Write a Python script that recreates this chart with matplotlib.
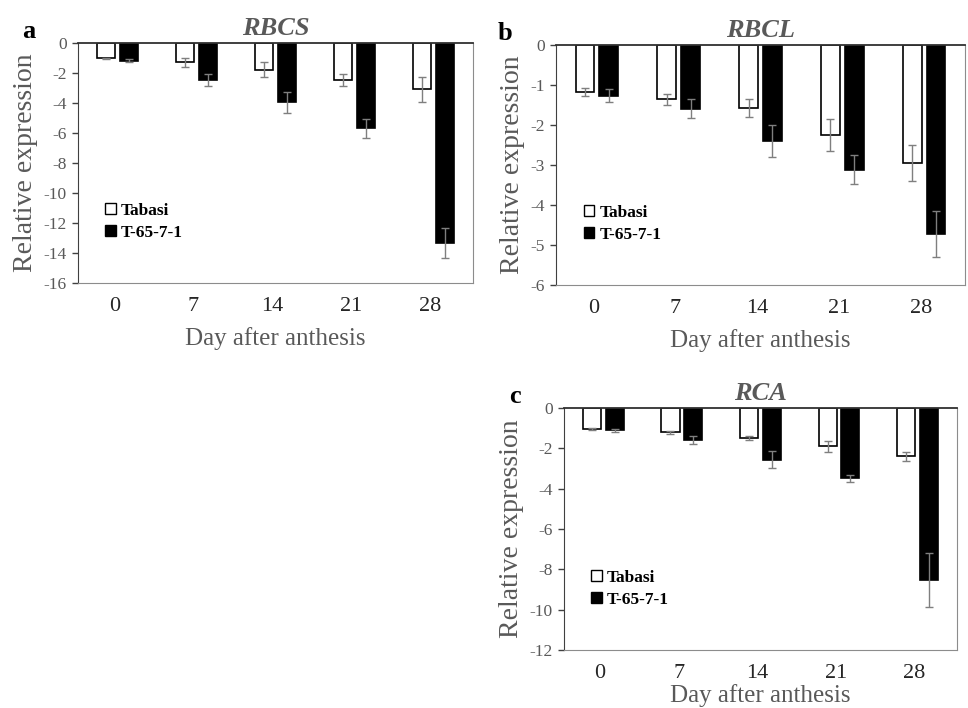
import matplotlib
matplotlib.use("Agg")

import matplotlib.pyplot as plt
import numpy as np
from matplotlib.patches import Patch

plt.rcParams["font.family"] = ["Liberation Serif", "DejaVu Serif"]
plt.rcParams["axes.unicode_minus"] = False

days = ["0", "7", "14", "21", "28"]
series = ["Tabasi", "T-65-7-1"]

rbcs_tabasi = [-1.03, -1.29, -1.80, -2.47, -3.09]
rbcs_tabasi_err = [0.05, 0.30, 0.50, 0.43, 0.85]
rbcs_t65 = [-1.18, -2.47, -3.95, -5.69, -13.31]
rbcs_t65_err = [0.12, 0.42, 0.70, 0.64, 1.00]

rbcl_tabasi = [-1.17, -1.36, -1.57, -2.24, -2.94]
rbcl_tabasi_err = [0.10, 0.13, 0.22, 0.40, 0.45]
rbcl_t65 = [-1.27, -1.59, -2.39, -3.12, -4.72]
rbcl_t65_err = [0.16, 0.23, 0.40, 0.36, 0.58]

rca_tabasi = [-1.04, -1.21, -1.51, -1.90, -2.40]
rca_tabasi_err = [0.05, 0.08, 0.10, 0.27, 0.22]
rca_t65 = [-1.11, -1.57, -2.57, -3.49, -8.53]
rca_t65_err = [0.07, 0.20, 0.43, 0.18, 1.33]

GREY = "#595959"

fig = plt.figure(figsize=(9.68, 7.08), dpi=100)


def draw_panel(rect, letter, title, tab, tab_err, t65, t65_err, ymin, ystep):
    ax = fig.add_axes(rect)
    x = np.arange(len(days))
    w = 0.23
    off = 0.145
    err_kw = dict(ecolor="#7f7f7f", elinewidth=1.0, capsize=3, capthick=1.0)
    ax.bar(x - off, tab, w, yerr=tab_err, color="white", edgecolor="black",
           linewidth=1.2, error_kw=err_kw, label=series[0], zorder=2)
    ax.bar(x + off, t65, w, yerr=t65_err, color="black", edgecolor="black",
           linewidth=1.2, error_kw=err_kw, label=series[1], zorder=2)

    ax.set_xlim(-0.5, len(days) - 0.5)
    ax.set_ylim(ymin, 0)
    ax.set_yticks(np.arange(ymin, 0.1, ystep))
    ax.set_xticks(x - 0.04)
    ax.set_xticklabels(days, fontsize=16, color="#262626")
    ax.tick_params(axis="x", length=0, pad=10)
    ax.tick_params(axis="y", length=4, width=1, color="#404040",
                   labelsize=12.5, labelcolor=GREY, pad=4)

    ax.spines["top"].set_color("#303030")
    ax.spines["top"].set_linewidth(1.3)
    ax.spines["left"].set_color("#404040")
    ax.spines["right"].set_color("#8c8c8c")
    ax.spines["bottom"].set_color("#8c8c8c")

    ax.set_ylabel("Relative expression", fontsize=20, color=GREY, labelpad=4)
    ax.set_xlabel("Day after anthesis", fontsize=18, color=GREY, labelpad=8)
    ax.set_title(title, fontsize=19, fontweight="bold", fontstyle="italic",
                 color=GREY, pad=6)
    ax.text(-0.125, 1.0, letter, transform=ax.transAxes, fontsize=19,
            fontweight="bold", color="black", ha="center", va="bottom")

    handles = [Patch(facecolor="white", edgecolor="black", linewidth=1.0),
               Patch(facecolor="black", edgecolor="black")]
    ax.legend(handles, series, loc="lower left",
              bbox_to_anchor=(0.03, 0.11), frameon=False,
              prop={"size": 12.5, "weight": "bold"},
              handlelength=0.6, handleheight=0.6, handletextpad=0.3,
              labelspacing=0.35)
    return ax


draw_panel([0.0806, 0.6003, 0.408, 0.339], "a", "RBCS",
           rbcs_tabasi, rbcs_tabasi_err, rbcs_t65, rbcs_t65_err, -16, 2)
draw_panel([0.5744, 0.5975, 0.4225, 0.339], "b", "RBCL",
           rbcl_tabasi, rbcl_tabasi_err, rbcl_t65, rbcl_t65_err, -6, 1)
ax_c = draw_panel([0.5826, 0.0819, 0.406, 0.342], "c", "RCA",
                  rca_tabasi, rca_tabasi_err, rca_t65, rca_t65_err, -12, 2)
ax_c.xaxis.labelpad = 1

fig.savefig("out.png", dpi=100)
plt.close(fig)
